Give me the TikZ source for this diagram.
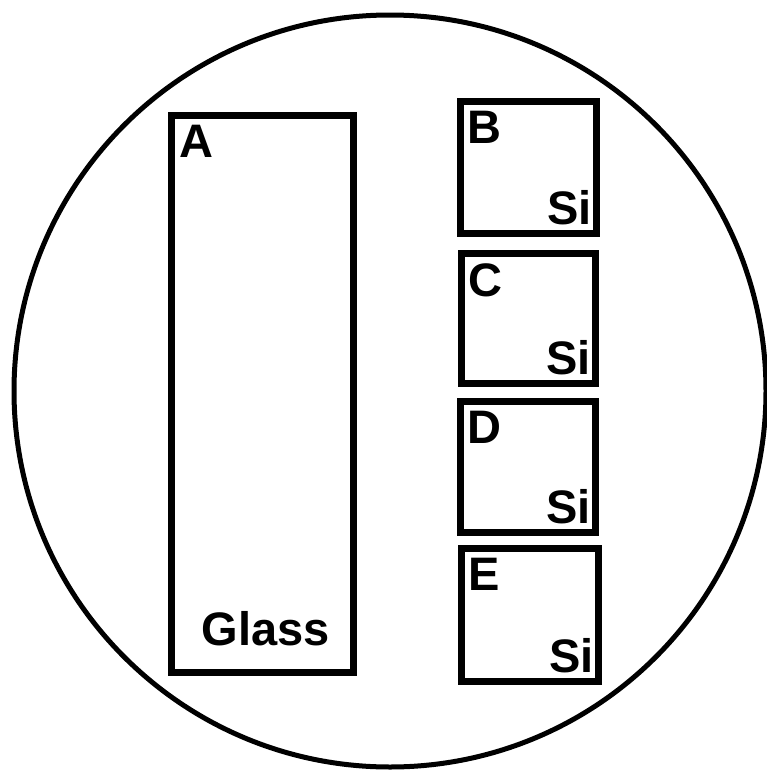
\documentclass[tikz,border=0pt]{standalone}
\usepackage{fontspec}
\setsansfont{Liberation Sans}
\usepackage{tikz}
\usetikzlibrary{positioning, calc}
\tikzset{holder/.style={draw, circle, line width=5pt, minimum size=752pt, inner sep=0pt},
slide/.style={draw, line width=6.5pt, inner sep=0pt, minimum width=136pt, minimum height=132pt},
tag/.style={font=\fontsize{47pt}{47pt}\selectfont\sffamily\bfseries, inner sep=0pt}}

\begin{document}
\begin{tikzpicture}[x=1pt, y=-1pt]
  \useasboundingbox (0,0) rectangle (767,771);
  % holder
  \node[holder] (plate) at (390,391) {};
  % glass slide
  \node[slide, minimum width=182pt, minimum height=557pt] (A) at (262.5,394) {};
  % silicon pieces
  \node[slide] (B) at (528.5,167.5) {};
  \node[slide, minimum width=134pt, minimum height=130pt] (C) at (528.5,318.5) {};
  \node[slide, minimum width=135pt, minimum height=131pt] (D) at (528,467) {};
  \node[slide, minimum width=137pt, minimum height=133pt] (E) at (530,615) {};
  % letters
  \node[tag, anchor=north west] (labA) at ($(A.north west)+(11,13)$) {A};
  \node[tag, anchor=north west] (labB) at ($(B.north west)+(10,13)$) {B};
  \node[tag, anchor=north west] (labC) at ($(C.north west)+(10,13)$) {C};
  \node[tag, anchor=north west] (labD) at ($(D.north west)+(10,13)$) {D};
  \node[tag, anchor=north west] (labE) at ($(E.north west)+(10,13)$) {E};
  % materials
  \node[tag, anchor=base] (glass) at ($(A.south)+(3,-30)$) {Glass};
  \node[tag, anchor=base east] (siB) at ($(B.south east)+(-8,-12)$) {Si};
  \node[tag, anchor=base east] (siC) at ($(C.south east)+(-8,-12)$) {Si};
  \node[tag, anchor=base east] (siD) at ($(D.south east)+(-8,-12)$) {Si};
  \node[tag, anchor=base east] (siE) at ($(E.south east)+(-8,-12)$) {Si};
\end{tikzpicture}
\end{document}
